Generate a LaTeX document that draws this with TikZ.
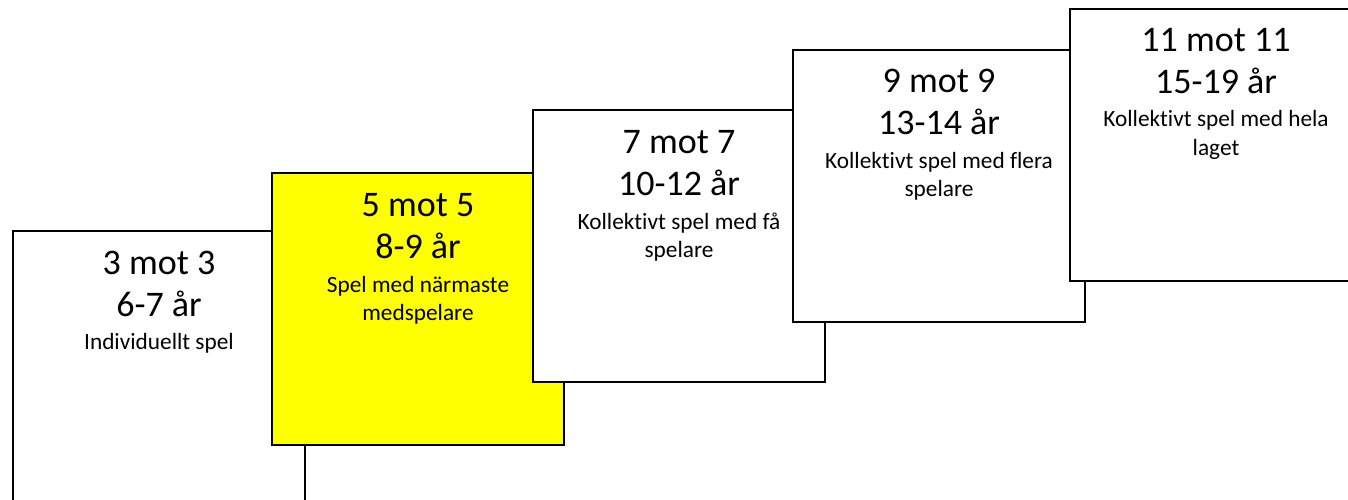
\documentclass[tikz,border=0pt]{standalone}
\usepackage{fontspec}
\setmainfont{Carlito}[Ligatures={NoCommon}]
\definecolor{stepyellow}{HTML}{FFFF00}
\tikzset{
  card/.style={draw=black, line width=2pt, fill=white, minimum width=292pt,
    minimum height=272pt, anchor=north west, inner sep=0pt, outer sep=0pt},
  bigline/.style={anchor=base, inner sep=0pt, text=black,
    font=\fontsize{36}{43}\selectfont},
  smallline/.style={anchor=base, inner sep=0pt, text=black,
    font=\fontsize{23.3}{28}\selectfont},
}
% one card: name, top-left corner, fill, then its two title lines
\newcommand\playcard[5]{%
  \node[card, fill=#3] (#1) at (#2) {};
  \node[bigline] (#1-a) at ([yshift=-43pt]#1.north) {#4};
  \node[bigline] (#1-b) at ([yshift=-85pt]#1.north) {#5};
}
\begin{document}
\begin{tikzpicture}[x=1pt, y=-1pt]
\useasboundingbox (0,0) rectangle (1348,500);
\clip (0,0) rectangle (1348,500);

\playcard{c1}{13,231}{white}{3 mot 3}{6-7 år}
\node[smallline] (c1-c) at ([yshift=-118pt]c1.north) {Individuellt spel};

\playcard{c2}{272,173}{stepyellow}{5 mot 5}{8-9 år}
\node[smallline] (c2-c) at ([yshift=-119pt]c2.north) {Spel med närmaste};
\node[smallline] (c2-d) at ([yshift=-147pt]c2.north) {medspelare};

\playcard{c3}{533,110}{white}{7 mot 7}{10-12 år}
\node[smallline] (c3-c) at ([yshift=-119pt]c3.north) {Kollektivt spel med få};
\node[smallline] (c3-d) at ([yshift=-147pt]c3.north) {spelare};

\playcard{c4}{793,50}{white}{9 mot 9}{13-14 år}
\node[smallline] (c4-c) at ([yshift=-118pt]c4.north) {Kollektivt spel med flera};
\node[smallline] (c4-d) at ([yshift=-146pt]c4.north) {spelare};

\playcard{c5}{1070,9}{white}{11 mot 11}{15-19 år}
\node[smallline] (c5-c) at ([yshift=-118pt]c5.north) {Kollektivt spel med hela};
\node[smallline] (c5-d) at ([yshift=-146pt]c5.north) {laget};
\end{tikzpicture}
\end{document}
